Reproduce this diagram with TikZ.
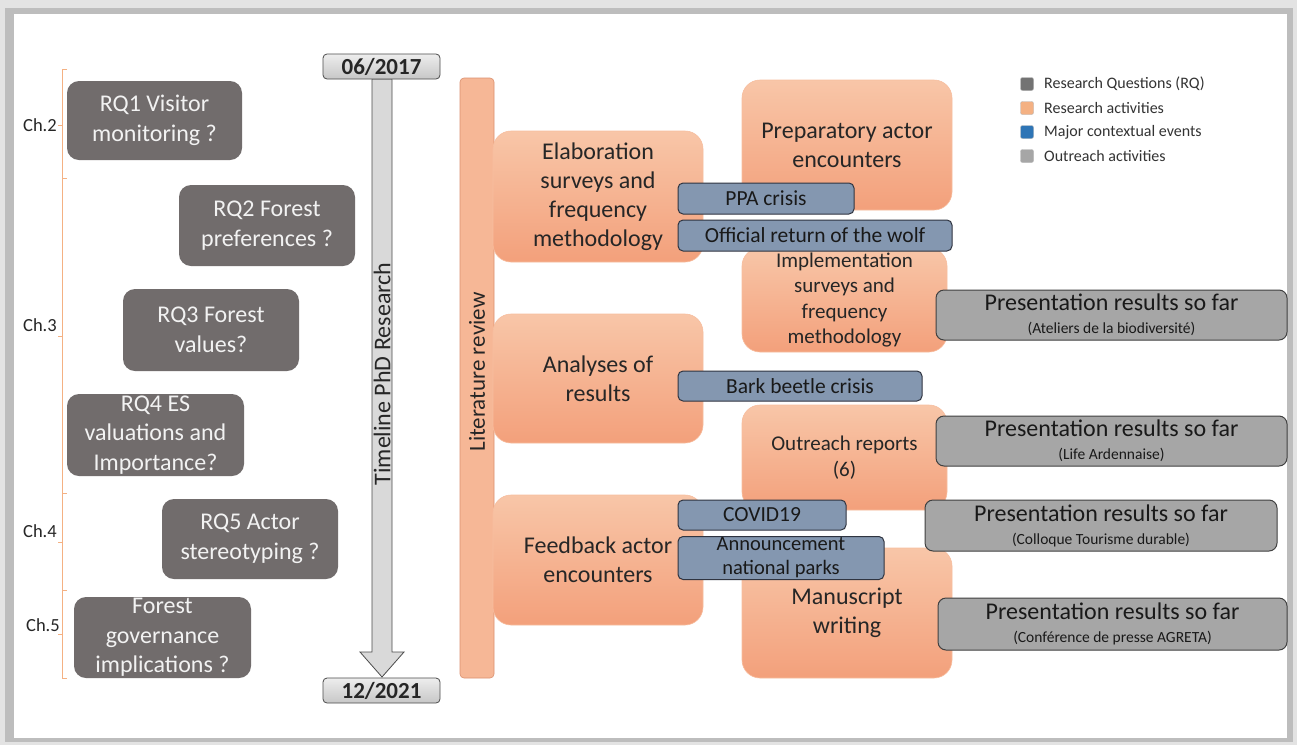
\documentclass[tikz,border=0pt]{standalone}
\usepackage{fontspec}
\setmainfont{Carlito}
\definecolor{rqgray}{HTML}{716C6C}
\definecolor{peachA}{HTML}{F8C6A8}
\definecolor{peachB}{HTML}{F3A07B}
\definecolor{bluegray}{HTML}{8497B0}
\definecolor{bluedark}{HTML}{2F3440}
\definecolor{outgray}{HTML}{A6A6A6}
\definecolor{braceor}{HTML}{F4B183}
\definecolor{legblue}{HTML}{2E75B6}
\definecolor{legorange}{HTML}{F4B183}
\definecolor{leggray}{HTML}{737373}
\definecolor{txtdark}{HTML}{262626}
\newcommand\myprs{\fontsize{24}{20}\selectfont}
\newcommand\mysubf{\fontsize{15.5}{17}\selectfont}
\tikzset{
  rq/.style={fill=rqgray, rounded corners=12pt, text=white!95!black, align=center, inner sep=0pt,
    font=\fontsize{24}{29.5}\selectfont},
  act/.style={top color=peachA, bottom color=peachB, draw=peachA!80!peachB, line width=0.6pt,
    rounded corners=18pt, text=txtdark, align=center, inner sep=0pt,
    font=\fontsize{24}{29}\selectfont},
  actsmall/.style={act, font=\fontsize{21}{25.5}\selectfont},
  event/.style={fill=bluegray, draw=bluedark, line width=1pt, rounded corners=5pt, text=black!90,
    align=center, inner sep=0pt, font=\fontsize{21.5}{23}\selectfont},
  outreach/.style={fill=outgray, draw=black!75, line width=1pt, rounded corners=8pt, text=black!90,
    align=center, inner sep=0pt, font=\fontsize{24}{20}\selectfont},
  datebox/.style={top color=white!93!black, bottom color=white!78!black, draw=black!70, line width=0.8pt,
    rounded corners=4pt, inner sep=0pt, font=\fontsize{23}{26}\selectfont\bfseries, text=black!85},
  chlab/.style={font=\fontsize{18.5}{20}\selectfont, text=black!85, anchor=east, inner sep=0pt},
  bracket/.style={draw=braceor, line width=0.9pt},
  legsq/.style={rounded corners=2pt, minimum width=13pt, minimum height=13pt, inner sep=0pt, draw=black!30},
  leglab/.style={font=\fontsize{16}{18}\selectfont, text=black!80, anchor=west, inner sep=0pt}
}
\begin{document}
\begin{tikzpicture}[x=1pt,y=-1pt]
\useasboundingbox (0,0) rectangle (1297,745);
% frame with shadow
\fill[white!89!black] (0,0) rectangle (1297,745);
\fill[white!74!black] (5,8) rectangle (1293,742);
\fill[white] (14,14) rectangle (1287,738);

% chapter brackets
\draw[bracket] (67,69) -- (62,69) -- (62,125) -- (58,125);
\draw[bracket] (62,125) -- (62,178) -- (67,178);
\draw[bracket] (62,178) -- (62,336) -- (58,336);
\draw[bracket] (62,336) -- (62,493) -- (67,493);
\draw[bracket] (62,493) -- (62,542) -- (58,542);
\draw[bracket] (62,542) -- (62,590) -- (67,590);
\draw[bracket] (62,590) -- (62,634) -- (58,634);
\draw[bracket] (62,634) -- (62,678) -- (67,678);
\node[chlab] (ch2) at (57,125) {Ch.2};
\node[chlab] (ch3) at (57,325) {Ch.3};
\node[chlab] (ch4) at (57,531) {Ch.4};
\node[chlab] (ch5) at (60,625) {Ch.5};

% research questions
\node[rq, minimum width=175pt, minimum height=79pt] (rq1) at (154.5,120.5) {RQ1 Visitor\\monitoring ?};
\node[rq, minimum width=176pt, minimum height=81pt] (rq2) at (267,225.5) {RQ2 Forest\\preferences ?};
\node[rq, minimum width=176pt, minimum height=82pt] (rq3) at (211,330) {RQ3 Forest\\values?};
\node[rq, minimum width=177pt, minimum height=82pt] (rq4) at (155.5,435) {RQ4 ES\\valuations and\\Importance?};
\node[rq, minimum width=176pt, minimum height=80pt] (rq5) at (250,539) {RQ5 Actor\\stereotyping ?};
\node[rq, minimum width=177pt, minimum height=81pt] (rq6) at (162.5,637.5) {Forest\\governance\\implications ?};

% timeline arrow
\filldraw[fill=white!85!black, draw=black!70, line width=0.8pt]
  (372,79) -- (392,79) -- (392,652) -- (404,652) -- (382,677) -- (360,652) -- (372,652) -- cycle;
\node[rotate=90, font=\fontsize{24}{26}\selectfont, text=black!85, inner sep=0pt] (tl) at (382,374) {Timeline PhD Research};
\node[datebox, minimum width=117pt, minimum height=25pt] (d1) at (381.5,66.5) {06/2017};
\node[datebox, minimum width=117pt, minimum height=25pt] (d2) at (381.5,690.5) {12/2021};

% literature review bar
\node[fill=peachA!60!peachB, draw=peachB!90!black, line width=0.6pt, rounded corners=4pt,
  minimum width=34pt, minimum height=600pt, inner sep=0pt] (lit) at (477,378) {};
\node[rotate=90, font=\fontsize{23}{25}\selectfont, text=txtdark, inner sep=0pt] (littxt) at (477,372) {Literature review};

% research activities
\node[act, minimum width=210pt, minimum height=131pt] (elab) at (598,196.5) {Elaboration\\surveys and\\frequency\\methodology};
\node[act, minimum width=210pt, minimum height=129pt] (anal) at (598,378.5) {Analyses of\\results};
\node[act, minimum width=210pt, minimum height=130pt] (feed) at (598,560) {Feedback actor\\encounters};
\node[act, minimum width=210pt, minimum height=130pt] (prep) at (847,145) {Preparatory actor\\encounters};
\node[actsmall, minimum width=205pt, minimum height=104pt] (impl) at (844.5,300) {Implementation\\surveys and\\frequency\\methodology};
\node[actsmall, minimum width=205pt, minimum height=105pt] (outr) at (844.5,457.5) {Outreach reports\\(6)};
\node[act, minimum width=210pt, minimum height=130pt] (manu) at (847,613) {Manuscript\\writing};

% contextual events
\node[event, minimum width=176pt, minimum height=31pt] (ppa) at (766,198.5) {PPA crisis};
\node[event, minimum width=274pt, minimum height=31pt] (wolf) at (815,235.5) {Official return of the wolf};
\node[event, minimum width=244pt, minimum height=30pt] (bark) at (800,386) {Bark beetle crisis};
\node[event, minimum width=168pt, minimum height=30pt] (covid) at (762,515) {COVID19};
\node[event, minimum width=206pt, minimum height=43pt, font=\fontsize{20.5}{24}\selectfont] (np) at (781,558) {Announcement\\national parks};

% outreach activities
\node[outreach, minimum width=351pt, minimum height=50pt] (o1) at (1111.5,315) {{\myprs Presentation results so far}\\[3pt]{\mysubf (Ateliers de la biodiversité)}};
\node[outreach, minimum width=351pt, minimum height=50pt] (o2) at (1111.5,441) {{\myprs Presentation results so far}\\[3pt]{\mysubf (Life Ardennaise)}};
\node[outreach, minimum width=352pt, minimum height=51pt] (o3) at (1101,525.5) {{\myprs Presentation results so far}\\[3pt]{\mysubf (Colloque Tourisme durable)}};
\node[outreach, minimum width=349pt, minimum height=52pt] (o4) at (1112.5,624) {{\myprs Presentation results so far}\\[3pt]{\mysubf (Conférence de presse AGRETA)}};

% legend
\node[legsq, fill=leggray] (l1) at (1027,84) {};
\node[leglab] (l1t) at (1044,84) {Research Questions (RQ)};
\node[legsq, fill=legorange] (l2) at (1027,108) {};
\node[leglab] (l2t) at (1044,108) {Research activities};
\node[legsq, fill=legblue] (l3) at (1027,132) {};
\node[leglab] (l3t) at (1044,132) {Major contextual events};
\node[legsq, fill=outgray] (l4) at (1027,156) {};
\node[leglab] (l4t) at (1044,156) {Outreach activities};
\end{tikzpicture}
\end{document}
